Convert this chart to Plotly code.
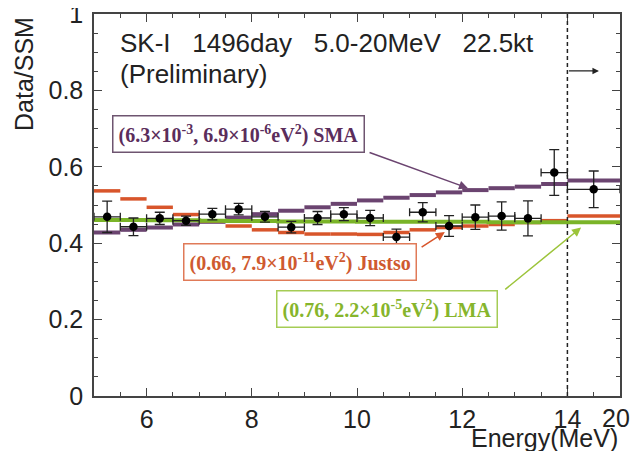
import plotly.graph_objects as go

# ---------------- data ----------------
bin_edges = [5.0, 5.5, 6.0, 6.5, 7.0, 7.5, 8.0, 8.5, 9.0, 9.5, 10.0,
             10.5, 11.0, 11.5, 12.0, 12.5, 13.0, 13.5, 14.0, 20.0]
data_ratio = [0.469, 0.443, 0.465, 0.459, 0.476, 0.489, 0.469, 0.442, 0.466, 0.476,
              0.466, 0.416, 0.481, 0.445, 0.468, 0.471, 0.465, 0.585, 0.541]
data_err = [0.041, 0.023, 0.016, 0.012, 0.015, 0.015, 0.014, 0.015, 0.017, 0.017,
            0.020, 0.021, 0.025, 0.027, 0.032, 0.037, 0.046, 0.060, 0.048]
sma = [0.428, 0.435, 0.441, 0.449, 0.456, 0.467, 0.476, 0.485, 0.494, 0.503,
       0.512, 0.519, 0.526, 0.533, 0.539, 0.544, 0.548, 0.555, 0.564]
justso = [0.537, 0.516, 0.494, 0.475, 0.458, 0.445, 0.435, 0.428, 0.424, 0.424,
          0.423, 0.428, 0.435, 0.441, 0.445, 0.449, 0.454, 0.459, 0.471]
lma = [0.461, 0.461, 0.460, 0.460, 0.459, 0.458, 0.458, 0.457, 0.457, 0.457,
       0.456, 0.456, 0.456, 0.456, 0.456, 0.455, 0.455, 0.455, 0.455]
tick_energies = [6, 8, 10, 12, 14]
tick_labels = ["6", "8", "10", "12", "14"]
end_energy = 20.0
end_label = "20"
break_energy = 14.0


def to_axis(e):
    # broken axis: 14-20 MeV squeezed into one display unit
    return e if e <= break_energy else break_energy + (e - break_energy) / 6.0


ax_edges = [to_axis(e) for e in bin_edges]
centers = [(a + b) / 2 for a, b in zip(ax_edges[:-1], ax_edges[1:])]
half_w = [(b - a) / 2 for a, b in zip(ax_edges[:-1], ax_edges[1:])]


def segments(vals):
    xs, ys = [], []
    for i, v in enumerate(vals):
        xs += [ax_edges[i], ax_edges[i + 1], None]
        ys += [v, v, None]
    return xs, ys


PURPLE = "#6b4470"
ORANGE = "#d8552b"
GREEN = "#7ab428"
SANS = "Liberation Sans, Arial"

# page geometry (the html body adds an 8px margin around the figure)
PAGE_OFF = 8
PX_L, PX_R, PX_T, PX_B = 94, 620, 14, 396     # plot area in page pixels


def px_x(px):
    return (px - PX_L) / (PX_R - PX_L)


def px_y(py):
    return (PX_B - py) / (PX_B - PX_T)


fig = go.Figure()
xs, ys = segments(sma)
fig.add_trace(go.Scatter(x=xs, y=ys, mode="lines", line=dict(color=PURPLE, width=4),
                         hoverinfo="skip"))
xs, ys = segments(justso)
fig.add_trace(go.Scatter(x=xs, y=ys, mode="lines", line=dict(color=ORANGE, width=3.5),
                         hoverinfo="skip"))
fig.add_trace(go.Scatter(x=ax_edges, y=lma + [lma[-1]], mode="lines", line_shape="hv",
                         line=dict(color=GREEN, width=4), hoverinfo="skip"))
fig.add_trace(go.Scatter(
    x=centers, y=data_ratio, mode="markers",
    marker=dict(color="black", size=8.5),
    error_y=dict(type="data", array=data_err, color="#222", thickness=1.3, width=5),
    error_x=dict(type="data", array=half_w, color="#222", thickness=1.3, width=4),
))

# dashed line at the axis break
fig.add_shape(type="line", x0=break_energy, x1=break_energy, y0=0, y1=1,
              xref="x", yref="y", line=dict(color="#222", width=1.5, dash="4px,3px"))

ann = []
ann.append(dict(x=to_axis(end_energy) - 0.4, y=0.851, ax=break_energy, ay=0.851,
                xref="x", yref="y", axref="x", ayref="y", text="", showarrow=True,
                arrowhead=2, arrowsize=1, arrowwidth=1.3, arrowcolor="#222", standoff=0))
# title texts
SP = "&nbsp;" * 3
for ty, t in [(43, f"SK-I{SP}1496day{SP}5.0-20MeV{SP}22.5kt"),
              (74, "(Preliminary)")]:
    ann.append(dict(x=px_x(118), y=px_y(ty), xref="paper", yref="paper", text=t,
                    showarrow=False, xanchor="left", yanchor="middle",
                    font=dict(family=SANS, size=26, color="#222")))

serif = "Liberation Serif, Times New Roman"
boxes = [
    (7.747, 0.6846, "<b>(6.3×10<sup>-3</sup>, 6.9×10<sup>-6</sup>eV<sup>2</sup>) SMA</b>",
     "#5b2d5b", "#6e5570"),
    (8.907, 0.3495, "<b>(0.66, 7.9×10<sup>-11</sup>eV<sup>2</sup>) Justso</b>",
     "#cf5a30", "#e07a58"),
    (10.561, 0.229, "<b>(0.76, 2.2×10<sup>-5</sup>eV<sup>2</sup>) LMA</b>",
     "#86b52c", "#a5cc55"),
]
for x, y, t, tc, bc in boxes:
    ann.append(dict(x=x, y=y, xref="x", yref="y", text=t, showarrow=False,
                    font=dict(family=serif, size=20, color=tc), bgcolor="white",
                    bordercolor=bc, borderwidth=1.5, borderpad=5))

arrows = [
    (12.11, 0.544, 10.21, 0.639, PURPLE),
    (11.67, 0.429, 11.20, 0.387, ORANGE),
    (14.26, 0.441, 12.79, 0.276, "#9cc43a"),
]
for hx, hy, tx, ty, c in arrows:
    ann.append(dict(x=hx, y=hy, ax=tx, ay=ty, xref="x", yref="y", axref="x", ayref="y",
                    text="", showarrow=True, arrowhead=2, arrowsize=1.2, arrowwidth=1.5,
                    arrowcolor=c, standoff=0))

# label of the right edge of the broken axis (20 MeV), kept inside the page
ann.append(dict(x=px_x(616), y=px_y(418), xref="paper", yref="paper", text=end_label,
                showarrow=False, xanchor="center", yanchor="middle",
                font=dict(family=SANS, size=25, color="#222")))

# axis titles
ann.append(dict(x=1.0, y=px_y(438), xref="paper", yref="paper", text="Energy(MeV)",
                showarrow=False, xanchor="right", yanchor="middle",
                font=dict(family=SANS, size=25, color="#222")))
ann.append(dict(x=px_x(24), y=px_y(74), xref="paper", yref="paper",
                text="Data/SSM", textangle=-90, showarrow=False, xanchor="center",
                yanchor="middle",
                font=dict(family=SANS, size=25, color="#222")))

W, H = 638 - 2 * PAGE_OFF, 459 - 2 * PAGE_OFF
fig.update_layout(
    width=W, height=H,
    margin=dict(l=PX_L - PAGE_OFF, r=W + PAGE_OFF - PX_R, t=PX_T - PAGE_OFF,
                b=H + PAGE_OFF - PX_B, autoexpand=False),
    paper_bgcolor="white", plot_bgcolor="white",
    showlegend=False,
    annotations=ann,
    font=dict(family=SANS, size=24, color="#222"),
)
fig.update_xaxes(
    range=[5, to_axis(end_energy)],
    tickvals=[to_axis(e) for e in tick_energies], ticktext=tick_labels,
    ticks="inside", ticklen=8, tickwidth=1.2, tickcolor="#444",
    showline=True, linecolor="#444", linewidth=1.5, mirror="ticks",
    showgrid=False, zeroline=False,
    minor=dict(dtick=0.5, ticks="inside", ticklen=4, tickwidth=1.2, tickcolor="#444"),
    tickfont=dict(size=25), ticklabeloverflow="allow",
)
fig.update_yaxes(
    range=[0, 1], tickvals=[0, 0.2, 0.4, 0.6, 0.8, 1],
    ticktext=["0", "0.2", "0.4", "0.6", "0.8", "1"],
    ticks="inside", ticklen=8, tickwidth=1.2, tickcolor="#444",
    showline=True, linecolor="#444", linewidth=1.5, mirror="ticks",
    showgrid=False, zeroline=False,
    minor=dict(dtick=0.05, ticks="inside", ticklen=4, tickwidth=1.2, tickcolor="#444"),
    tickfont=dict(size=25), ticklabelstandoff=4, ticklabeloverflow="allow",
)

fig.write_html("out.html")
